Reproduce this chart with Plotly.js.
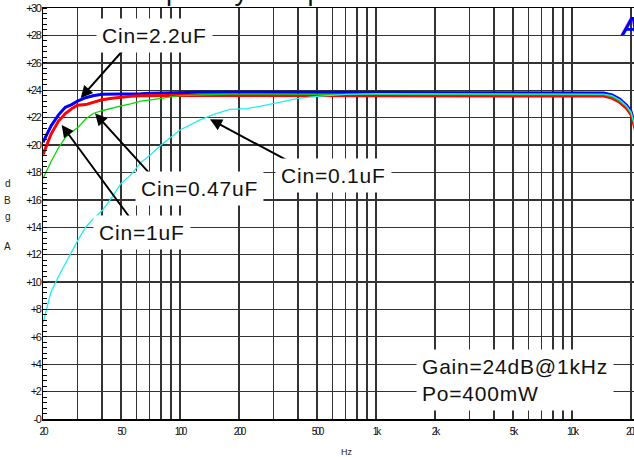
<!DOCTYPE html>
<html><head><meta charset="utf-8">
<script src="https://cdn.plot.ly/plotly-3.0.1.min.js"></script>
<style>
html,body{margin:0;padding:0;overflow:hidden;background:#fff;}
#chart{width:650px;height:457px;}
.xtick text{letter-spacing:-2px;}
.ytick text{letter-spacing:-1.5px;}
.annotation-text{letter-spacing:0.8px;}
</style></head><body><div id="chart"></div>
<script>
// Frequency (Hz) shared by all series
const freq = [20, 22, 24, 26, 28, 30, 33, 36, 40, 45, 50, 56, 63, 71, 80, 90, 100, 125, 150, 180, 220, 270, 330, 400, 500, 700, 1000, 2000, 5000, 10000, 13000, 14500, 16000, 17500, 19000, 20000, 21000, 22000];
// dBgA for each input capacitor
const cin22 = [20.2, 21.4, 22.2, 22.75, 22.95, 23.2, 23.45, 23.6, 23.7, 23.7, 23.72, 23.72, 23.75, 23.78, 23.8, 23.82, 23.84, 23.85, 23.85, 23.85, 23.84, 23.85, 23.85, 23.85, 23.85, 23.85, 23.85, 23.85, 23.85, 23.85, 23.85, 23.8, 23.65, 23.35, 22.9, 22.45, 21.4, 20.2];
const cin1 = [19.3, 20.8, 21.75, 22.3, 22.65, 22.9, 22.95, 23.1, 23.3, 23.42, 23.5, 23.55, 23.6, 23.62, 23.62, 23.62, 23.62, 23.62, 23.62, 23.62, 23.62, 23.62, 23.62, 23.62, 23.62, 23.62, 23.62, 23.62, 23.62, 23.62, 23.62, 23.57, 23.42, 23.12, 22.67, 22.22, 21.17, 19.97];
const cin047 = [17.55, 18.8, 19.8, 20.55, 20.95, 21.25, 21.9, 22.3, 22.5, 22.7, 22.85, 23.0, 23.2, 23.3, 23.4, 23.5, 23.6, 23.65, 23.7, 23.72, 23.72, 23.72, 23.72, 23.72, 23.72, 23.72, 23.72, 23.72, 23.72, 23.72, 23.72, 23.67, 23.52, 23.22, 22.77, 22.32, 21.27, 20.07];
const cin01 = [7.0, 9.3, 10.4, 11.35, 12.2, 13.0, 14.0, 14.6, 15.2, 16.2, 17.2, 17.8, 18.7, 19.3, 20.0, 20.6, 21.1, 21.8, 22.25, 22.6, 22.65, 22.9, 23.15, 23.4, 23.55, 23.7, 23.75, 23.75, 23.75, 23.75, 23.75, 23.72, 23.6, 23.3, 22.85, 22.4, 21.35, 20.15];

// Axis ticks
const xGrid = [20,30,40,50,60,70,80,90,100,200,300,400,500,600,700,800,900,1000,2000,3000,4000,5000,6000,7000,8000,9000,10000,20000];
const xLabels = {20:'20',50:'50',100:'100',200:'200',500:'500',1000:'1k',2000:'2k',5000:'5k',10000:'10k',20000:'20k'};
const yTicks = [0,2,4,6,8,10,12,14,16,18,20,22,24,26,28,30];
const yTickText = ['-0','+2','+4','+6','+8','+10','+12','+14','+16','+18','+20','+22','+24','+26','+28','+30'];

const W = 650, H = 457, L = 43, T = 8, B = 38;
const pxPerDecade = 196;
const plotW = W - L;
const xr = [Math.log10(20), Math.log10(20) + plotW / pxPerDecade];

const traces = [
  {x: freq, y: cin22, mode: 'lines', line: {color: '#0000ff', width: 3}, name: 'Cin=2.2uF'},
  {x: freq, y: cin1, mode: 'lines', line: {color: '#ff0000', width: 3}, name: 'Cin=1uF'},
  {x: freq, y: cin047, mode: 'lines', line: {color: '#00dd00', width: 1.3}, name: 'Cin=0.47uF'},
  {x: freq, y: cin01, mode: 'lines', line: {color: '#22eeee', width: 1.3}, name: 'Cin=0.1uF'}
];

const arrowStyle = {xref: 'x', yref: 'y', text: '', showarrow: true, arrowhead: 2, arrowsize: 1.2, arrowwidth: 2, arrowcolor: '#000', standoff: 0};
const boxFont = {family: 'Arial, Liberation Sans, sans-serif', size: 21, color: '#111'};
const boxStyle = {xref: 'x', yref: 'y', showarrow: false, bgcolor: '#fff', borderpad: 5, font: boxFont, xanchor: 'center', yanchor: 'middle'};
const smallFont = {family: 'Arial, Liberation Sans, sans-serif', size: 10, color: '#222'};
const letter = {xref: 'paper', yref: 'paper', x: -0.058, showarrow: false, font: smallFont, xanchor: 'center', yanchor: 'middle'};

const annotations = [
  Object.assign({x: 1.4934, y: 23.43, ax: 55, ay: -62}, arrowStyle),
  Object.assign({x: 1.5663, y: 22.31, ax: 70, ay: 77}, arrowStyle),
  Object.assign({x: 1.3964, y: 21.46, ax: 78, ay: 106}, arrowStyle),
  Object.assign({x: 2.153, y: 21.88, ax: 90, ay: 48}, arrowStyle),
  Object.assign({x: 1.872, y: 27.96, text: 'Cin=2.2uF'}, boxStyle),
  Object.assign({x: 2.097, y: 16.86, text: 'Cin=0.47uF'}, boxStyle),
  Object.assign({x: 1.806, y: 13.58, text: 'Cin=1uF'}, boxStyle),
  Object.assign({x: 2.781, y: 17.81, text: 'Cin=0.1uF'}, boxStyle),
  Object.assign({x: 3.709, y: 2.85, text: 'Gain=24dB@1kHz<br>Po=400mW', align: 'left'}, boxStyle),
  Object.assign({y: 0.5718, text: 'd'}, letter),
  Object.assign({y: 0.5328, text: 'B'}, letter),
  Object.assign({y: 0.4915, text: 'g'}, letter),
  Object.assign({y: 0.4209, text: 'A'}, letter),
  {xref: 'paper', yref: 'paper', x: 0.947, y: 0.956, xanchor: 'left', yanchor: 'middle', text: 'Ap', showarrow: false,
   font: {family: 'Arial, Liberation Sans, sans-serif', size: 26, color: '#0000ee', weight: 'bold', style: 'italic'}},
  {xref: 'paper', yref: 'paper', x: 0.1137, y: 1.0414, xanchor: 'left', yanchor: 'middle', text: 'Frequency Response', showarrow: false,
   font: {family: 'Arial, Liberation Sans, sans-serif', size: 27, color: '#111'}}
];

const layout = {
  width: W, height: H,
  margin: {l: L, r: 0, t: T, b: B, pad: 0},
  paper_bgcolor: '#fff', plot_bgcolor: '#fff',
  showlegend: false,
  xaxis: {
    type: 'log', range: xr, tickmode: 'array', tickvals: xGrid,
    ticktext: xGrid.map(v => xLabels[v] || ''),
    showgrid: true, gridcolor: '#333', gridwidth: 1.4,
    ticks: '', showline: true, linecolor: '#000', linewidth: 1.5, mirror: true, zeroline: false,
    tickfont: {family: 'Arial, Liberation Sans, sans-serif', size: 10, color: '#111'},
    ticklabelstandoff: 2,
    title: {text: 'Hz', font: {family: 'Arial, Liberation Sans, sans-serif', size: 9, color: '#222'}, standoff: 14},
    automargin: false
  },
  yaxis: {
    range: [0, 30], tickmode: 'array', tickvals: yTicks, ticktext: yTickText,
    showgrid: true, gridcolor: '#333', gridwidth: 1.4,
    ticks: '', showline: true, linecolor: '#000', linewidth: 1.5, mirror: true, zeroline: false,
    minor: {dtick: 0.4, tick0: 0, ticks: 'inside', ticklen: 4, tickcolor: '#000', tickwidth: 1, showgrid: false},
    tickfont: {family: 'Arial, Liberation Sans, sans-serif', size: 11, color: '#111'},
    ticklabelstandoff: -1,
    automargin: false
  },
  annotations: annotations
};

Plotly.newPlot('chart', traces, layout, {displayModeBar: false, staticPlot: true});
</script></body></html>
